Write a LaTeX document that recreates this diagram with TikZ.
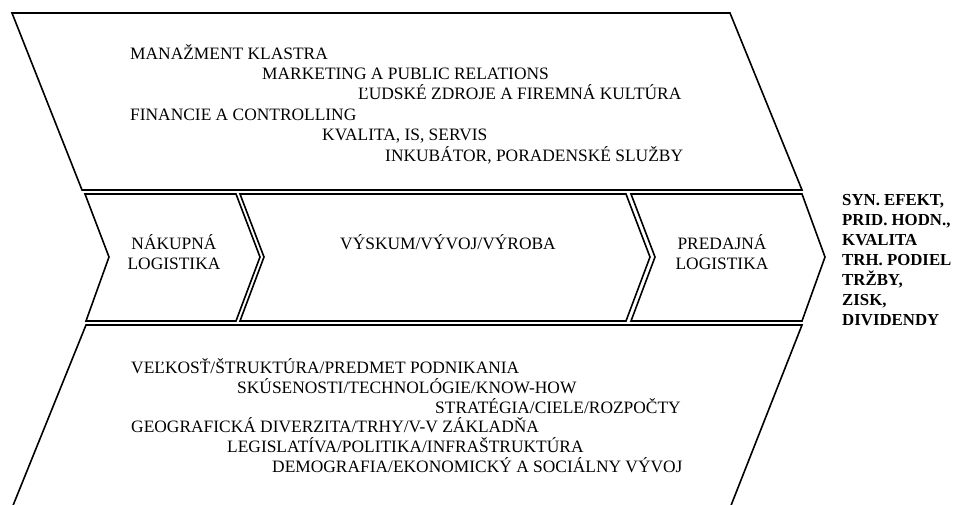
\documentclass[tikz,border=0pt]{standalone}
\usepackage{fontspec}
\setmainfont{Liberation Serif}
\begin{document}
\begin{tikzpicture}[x=1pt,y=-1pt,
  outline/.style={draw=black, line width=1.6pt, line join=miter},
  txt/.style={font=\fontsize{17.4}{20}\selectfont, inner sep=0pt, anchor=base west},
  ctxt/.style={txt, anchor=base},
  btxt/.style={font=\fontsize{16.8}{20}\selectfont\bfseries, inner sep=0pt, anchor=base west}]
\useasboundingbox (0,0) rectangle (955,504);
% upper trapezoid
\draw[outline] (12,13) -- (730,13) -- (802,190) -- (82,190) -- cycle;
% chevrons
\draw[outline] (85,194) -- (236,194) -- (260,257) -- (236,321) -- (86,321) -- (109,257) -- cycle;
\draw[outline] (240,194) -- (626,194) -- (650,257) -- (626,321) -- (240,321) -- (264,257) -- cycle;
\draw[outline] (631,194) -- (802,194) -- (825,257) -- (802,321) -- (631,321) -- (655,257) -- cycle;
% lower trapezoid
\draw[outline] (12,508) -- (86,325) -- (802,325) -- (730,508);
% upper texts
\node[txt] (u1) at (130,59) {MANAŽMENT KLASTRA};
\node[txt] (u2) at (262,79.4) {MARKETING A PUBLIC RELATIONS};
\node[txt] (u3) at (358,99.8) {ĽUDSKÉ ZDROJE A FIREMNÁ KULTÚRA};
\node[txt] (u4) at (130,120.2) {FINANCIE A CONTROLLING};
\node[txt] (u5) at (322,140.6) {KVALITA, IS, SERVIS};
\node[txt] (u6) at (385,161) {INKUBÁTOR, PORADENSKÉ SLUŽBY};
% middle texts
\node[ctxt] (m1) at (174,249.6) {NÁKUPNÁ};
\node[ctxt] (m2) at (174,269) {LOGISTIKA};
\node[ctxt] (m3) at (448,249.6) {VÝSKUM/VÝVOJ/VÝROBA};
\node[ctxt] (m4) at (722,249.6) {PREDAJNÁ};
\node[ctxt] (m5) at (722,269) {LOGISTIKA};
% lower texts
\node[txt] (l1) at (131,373.5) {VEĽKOSŤ/ŠTRUKTÚRA/PREDMET PODNIKANIA};
\node[txt] (l2) at (237,393.3) {SKÚSENOSTI/TECHNOLÓGIE/KNOW-HOW};
\node[txt] (l3) at (435,413.1) {STRATÉGIA/CIELE/ROZPOČTY};
\node[txt] (l4) at (131,432.9) {GEOGRAFICKÁ DIVERZITA/TRHY/V-V ZÁKLADŇA};
\node[txt] (l5) at (227,452.7) {LEGISLATÍVA/POLITIKA/INFRAŠTRUKTÚRA};
\node[txt] (l6) at (272,472.5) {DEMOGRAFIA/EKONOMICKÝ A SOCIÁLNY VÝVOJ};
% right results
\node[btxt] (r1) at (842,205.6) {SYN. EFEKT,};
\node[btxt] (r2) at (842,225.6) {PRID. HODN.,};
\node[btxt] (r3) at (842,245.6) {KVALITA};
\node[btxt] (r4) at (842,265.6) {TRH. PODIEL};
\node[btxt] (r5) at (842,285.6) {TRŽBY,};
\node[btxt] (r6) at (842,305.6) {ZISK,};
\node[btxt] (r7) at (842,325.6) {DIVIDENDY};
\end{tikzpicture}
\end{document}
